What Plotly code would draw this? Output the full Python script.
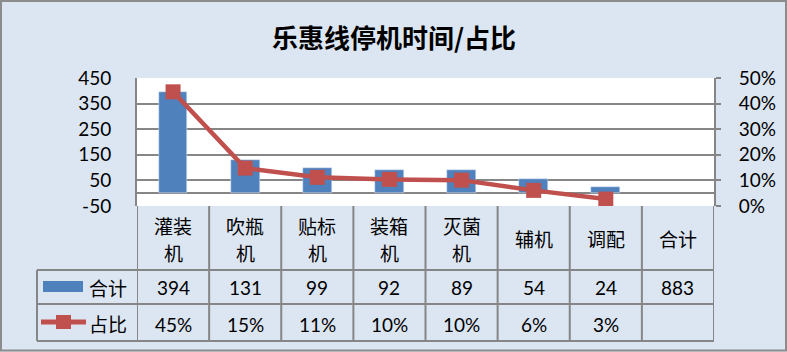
import plotly.graph_objects as go

# ---- data ----
categories = ["灌装机", "吹瓶机", "贴标机", "装箱机", "灭菌机", "辅机", "调配", "合计"]
totals = [394, 131, 99, 92, 89, 54, 24, 883]          # 合计 row of the data table
bar_values = [394, 131, 99, 92, 89, 54, 24, None]      # bars drawn (no bar for 合计)
shares = [0.446, 0.148, 0.112, 0.104, 0.101, 0.061, 0.027, None]
share_labels = ["45%", "15%", "11%", "10%", "10%", "6%", "3%", ""]
title_text = "乐惠线停机时间/占比"
series_names = ["合计", "占比"]
left_ticks = [-50, 50, 150, 250, 350, 450]
left_tick_labels = ["-50", "50", "150", "250", "350", "450"]

W, H = 787, 352
BLUE = "#4F81BD"
RED = "#C0504D"
GRID = "#868686"
BG = "#DCE6F2"
CJK = "Noto Sans CJK SC"
NUM = "Lato"


def px(x):
    return x / W


def py(y):
    return 1 - y / H


# plot area in pixels
PL, PR, PT, PB = 137, 714, 78, 206
ROW1, ROW2, ROW3 = 270, 304, 341
LEG_L = 37

idx = list(range(len(categories)))

fig = go.Figure()
fig.add_trace(go.Bar(x=idx, y=bar_values, marker_color=BLUE, width=0.4,
                     name=series_names[0], yaxis="y"))
fig.add_trace(go.Scatter(x=idx, y=shares, mode="lines+markers", name=series_names[1],
                         line=dict(color=RED, width=4.5),
                         marker=dict(symbol="square", size=15, color=RED),
                         yaxis="y2"))

shapes = []
annotations = []


def note(text, x, y, xref="paper", size=19, family=CJK):
    annotations.append(dict(text=text, xref=xref, yref="paper", x=x, y=y,
                            xanchor="center", yanchor="middle", showarrow=False,
                            font=dict(family=family, size=size, color="#000")))


# table grid: horizontal lines
for yy in (ROW1, ROW2, ROW3):
    shapes.append(dict(type="line", xref="paper", yref="paper",
                       x0=px(LEG_L), x1=px(PR), y0=py(yy), y1=py(yy),
                       line=dict(color=GRID, width=2)))
# vertical lines at category boundaries
for i in range(len(categories) + 1):
    shapes.append(dict(type="line", xref="x", yref="paper",
                       x0=i - 0.5, x1=i - 0.5, y0=py(PB), y1=py(ROW3),
                       line=dict(color=GRID, width=2)))
# legend column left edge
shapes.append(dict(type="line", xref="paper", yref="paper",
                   x0=px(LEG_L), x1=px(LEG_L), y0=py(ROW1), y1=py(ROW3),
                   line=dict(color=GRID, width=2)))

# legend symbols
shapes.append(dict(type="rect", xref="paper", yref="paper",
                   x0=px(43), x1=px(83), y0=py(292), y1=py(281),
                   fillcolor=BLUE, line=dict(width=0)))
shapes.append(dict(type="line", xref="paper", yref="paper",
                   x0=px(41), x1=px(86), y0=py(322), y1=py(322),
                   line=dict(color=RED, width=5)))
shapes.append(dict(type="rect", xref="paper", yref="paper",
                   x0=px(56), x1=px(71), y0=py(329), y1=py(315),
                   fillcolor=RED, line=dict(width=0)))

# outer border
shapes.append(dict(type="rect", xref="paper", yref="paper",
                   x0=px(1), x1=px(786), y0=py(350.5), y1=py(1),
                   line=dict(color="#8C8C8C", width=2)))

# legend texts
note(series_names[0], px(108), py(287))
note(series_names[1], px(108), py(323))

# category labels (wrapped like the original)
for i, c in enumerate(categories):
    if len(c) > 2:
        parts = [(c[:2], 225), (c[2:], 252)]
    else:
        parts = [(c, 238)]
    for t, yy in parts:
        note(t, i, py(yy), xref="x", size=19)
    note(str(totals[i]), i, py(287.5), xref="x", family=NUM)
    if share_labels[i]:
        note(share_labels[i], i, py(324), xref="x", family=NUM)

# title
note("<b>" + title_text + "</b>", px(394), py(36), size=26)

fig.update_layout(
    width=W, height=H,
    margin=dict(l=0, r=0, t=0, b=0, pad=0, autoexpand=False),
    paper_bgcolor=BG, plot_bgcolor="white",
    showlegend=False,
    bargap=0,
    xaxis=dict(domain=[px(PL), px(PR)], range=[-0.5, len(categories) - 0.5],
               showticklabels=False, showgrid=False, zeroline=False, ticks="",
               automargin=False, fixedrange=True),
    yaxis=dict(domain=[py(PB), py(PT)], range=[-50, 450],
               tickvals=left_ticks, ticktext=left_tick_labels,
               showgrid=True, gridcolor=GRID, gridwidth=1.5,
               zeroline=True, zerolinecolor=GRID, zerolinewidth=1.5,
               showline=True, linecolor=GRID, linewidth=2, automargin=False,
               ticks="outside", ticklen=20, tickcolor="rgba(0,0,0,0)",
               tickfont=dict(family=NUM, size=19, color="#000")),
    yaxis2=dict(overlaying="y", side="right", anchor="x", range=[0, 0.5], dtick=0.1,
                tickformat=".0%", showgrid=False, zeroline=False,
                showline=True, linecolor=GRID, linewidth=2, automargin=False,
                ticks="outside", ticklen=5, tickcolor=GRID, tickwidth=1.5,
                ticklabelstandoff=14,
                tickfont=dict(family=NUM, size=19, color="#000")),
    shapes=shapes,
    annotations=annotations,
)

fig.write_html("out.html")
